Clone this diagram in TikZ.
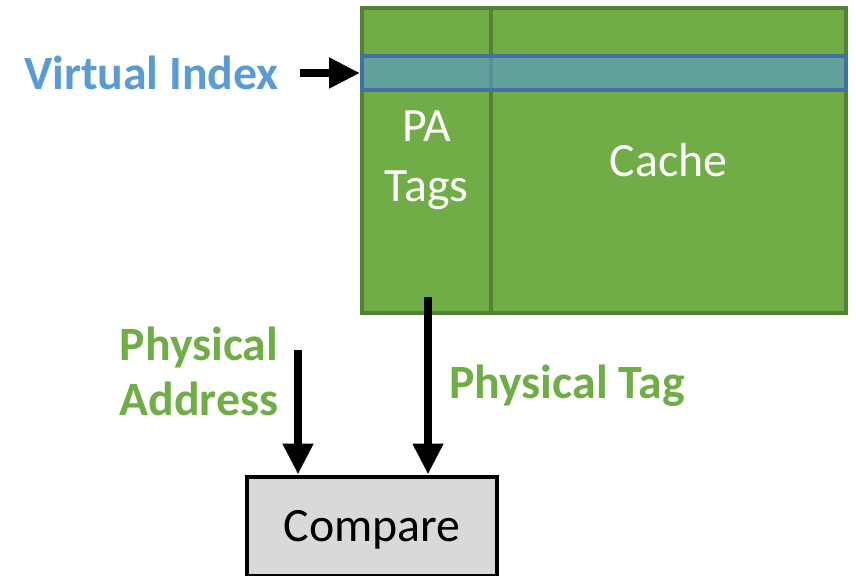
\documentclass[tikz,border=0pt]{standalone}
\usepackage{fontspec}
\setmainfont{Carlito}
\usetikzlibrary{arrows.meta}
\definecolor{cgreen}{HTML}{70AD47}
\definecolor{cgreendark}{HTML}{548235}
\definecolor{cblue}{HTML}{5B9BD5}
\definecolor{cbluedark}{HTML}{41719C}
\definecolor{cgray}{HTML}{D9D9D9}
\tikzset{
  cellbox/.style={draw=cgreendark, fill=cgreen, line width=4bp, inner sep=0pt, text=white, align=center, font=\fontsize{48}{60}\selectfont},
  bandbox/.style={draw=cbluedark, fill=cblue, fill opacity=0.6, draw opacity=1, line width=4bp, inner sep=0pt},
  cmpbox/.style={draw=black, fill=cgray, line width=4bp, inner sep=0pt, text depth=0pt, font=\fontsize{48}{58}\selectfont},
  lbl/.style={font=\bfseries\fontsize{48}{55}\selectfont, inner sep=0pt, align=center},
  bigarrow/.style={line width=8bp, -{Triangle[length=31bp, width=29bp]}}
}
\begin{document}
\begin{tikzpicture}[x=1bp, y=-1bp]
\useasboundingbox (0,0) rectangle (856,576);
% cache columns
\node[cellbox, minimum width=129bp, minimum height=305bp] (tags) at (426.5,160.5) {PA\\Tags};
\node[cellbox, minimum width=355bp, minimum height=305bp] (cache) at (668.5,160.5) {Cache};
% virtual index band
\node[bandbox, minimum width=484bp, minimum height=34bp] (band) at (604,73) {};
% compare box
\node[cmpbox, minimum width=250bp, minimum height=99bp] (cmp) at (372,526) {Compare};
% labels
\node[lbl, text=cblue, anchor=east] (vi) at (279,73) {Virtual Index};
\node[lbl, text=cgreen] (pa) at (199,371) {Physical\\Address};
\node[lbl, text=cgreen, anchor=west] (pt) at (449,386) {Physical Tag};
% connectors
\coordinate (viS) at (300,73);
\coordinate (ptS) at (428,297);
\coordinate (paS) at (298,350);
\draw[bigarrow] (viS) -- (band.west);
\draw[bigarrow] (ptS) -- (ptS |- cmp.north);
\draw[bigarrow] (paS) -- (paS |- cmp.north);
\end{tikzpicture}
\end{document}
